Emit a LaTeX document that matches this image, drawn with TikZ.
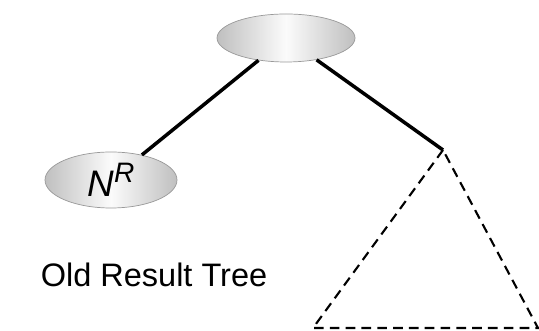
\documentclass[tikz,border=0pt]{standalone}
\usepackage{fontspec}
\setmainfont{Liberation Sans}
\usetikzlibrary{shapes, positioning}

\tikzset{
    treenode/.style={ellipse, draw=gray!80, left color=gray!50, right color=gray!50,
        middle color=gray!3, inner sep=0pt},
    treeedge/.style={line width=2pt},
    subtree/.style={line width=1.2pt, dash pattern=on 5.5pt off 3.5pt}
}

\begin{document}
\begin{tikzpicture}

    \useasboundingbox (0, 0) rectangle (10.78, 6.62);

    % --- Nodes ---
    \node[treenode, minimum width=2.76cm, minimum height=0.96cm] (root) at (5.72, 5.86) {};
    \node[treenode, minimum width=2.64cm, minimum height=1.12cm] (NR) at (2.22, 3.02)
        {\fontsize{21}{22}\selectfont\textit{N}\raisebox{0.7ex}{\fontsize{16}{17}\selectfont\textit{R}}};

    % --- Result subtree (dashed triangle) ---
    \coordinate (apex) at (8.86, 3.62);
    \coordinate (baseL) at (6.26, 0.06);
    \coordinate (baseR) at (10.76, 0.06);

    % --- Edges ---
    \draw[treeedge] (root) -- (NR);
    \draw[treeedge] (root) -- (apex);
    \draw[subtree] (apex) -- (baseL) -- (baseR) -- cycle;

    % --- Label ---
    \node (label) at (3.08, 1.12) {\fontsize{18.5}{20}\selectfont Old Result Tree};

\end{tikzpicture}
\end{document}
